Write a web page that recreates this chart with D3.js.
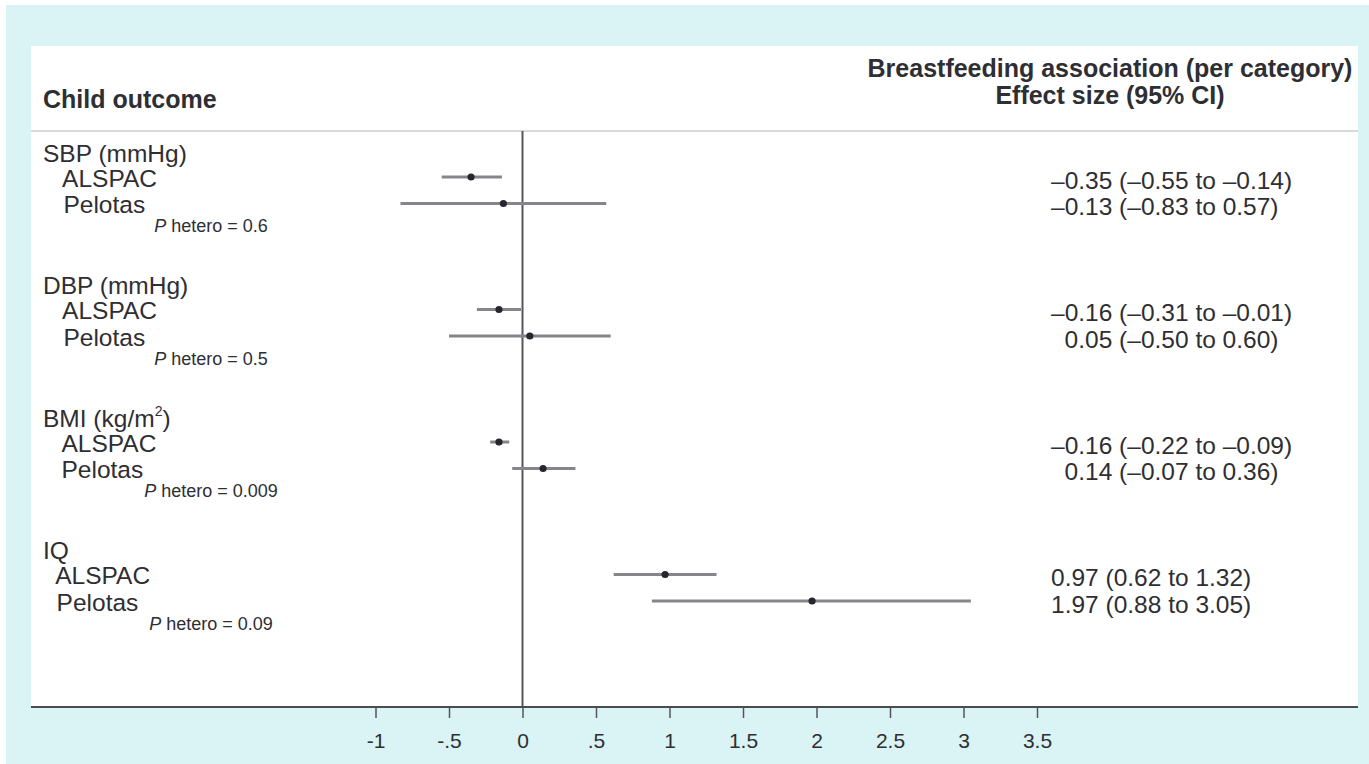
<!DOCTYPE html>
<html>
<head>
<meta charset="utf-8">
<script src="https://cdn.jsdelivr.net/npm/d3@7/dist/d3.min.js"></script>
<style>
  html, body { margin: 0; padding: 0; background: #ffffff; }
  svg { display: block; font-family: "Liberation Sans", Arial, Helvetica, sans-serif; }
  .lbl { white-space: pre; }
</style>
</head>
<body>
<svg id="chart" width="1369" height="764"></svg>
<script>
// Outcomes, cohorts and the per-category breastfeeding effects
const outcomes = ["SBP (mmHg)", "DBP (mmHg)", "BMI (kg/m²)", "IQ"];
const cohortLabels = [
  ["   ALSPAC", "   Pelotas"],
  ["   ALSPAC", "   Pelotas"],
  ["  \u2009ALSPAC", "  \u2009Pelotas"],
  ["  ALSPAC", "  Pelotas"]
];
const estimates = [[-0.35, -0.13], [-0.16, 0.05], [-0.16, 0.14], [0.97, 1.97]];
const lowerCI   = [[-0.55, -0.83], [-0.31, -0.50], [-0.22, -0.07], [0.62, 0.88]];
const upperCI   = [[-0.14,  0.57], [-0.01,  0.60], [-0.09,  0.36], [1.32, 3.05]];
const pHetero   = ["0.6", "0.5", "0.009", "0.09"];
const tickValues = [-1, -0.5, 0, 0.5, 1, 1.5, 2, 2.5, 3, 3.5];
const tickLabels = ["-1", "-.5", "0", ".5", "1", "1.5", "2", "2.5", "3", "3.5"];

const W = 1369, H = 764;
const panel = { left: 31, top: 46, right: 1358, bottom: 707 };
const headerLine = 131;
const textColor = "#2e2e33";
const rowsPerGroup = 5;
const bodySize = 24;

const svg = d3.select("#chart");

// backdrop and white plot panel
svg.append("rect").attr("width", W).attr("height", H).attr("fill", "#ffffff");
svg.append("rect").attr("x", 6).attr("y", 5).attr("width", W - 6).attr("height", H - 5).attr("fill", "#daf3f4");
svg.append("rect")
  .attr("x", panel.left).attr("y", panel.top)
  .attr("width", panel.right - panel.left).attr("height", panel.bottom - panel.top)
  .attr("fill", "#ffffff");

const x = d3.scaleLinear().domain([-1, 3.5]).range([375.5, 1037]);
const y = d3.scaleLinear().domain([0, outcomes.length * rowsPerGroup + 1]).range([150.5, panel.bottom]);

// column headings
svg.append("text")
  .attr("x", 43).attr("y", 108)
  .attr("font-size", 25).attr("font-weight", "bold").attr("fill", textColor)
  .text("Child outcome");
const rightHead = svg.append("text")
  .attr("x", 1110).attr("text-anchor", "middle")
  .attr("font-size", 25).attr("font-weight", "bold").attr("fill", textColor);
rightHead.append("tspan").attr("x", 1110).attr("y", 77).text("Breastfeeding association (per category)");
rightHead.append("tspan").attr("x", 1110).attr("y", 104).text("Effect size (95% CI)");

svg.append("line")
  .attr("x1", panel.left).attr("x2", panel.right)
  .attr("y1", headerLine).attr("y2", headerLine)
  .attr("stroke", "#d9d9d9").attr("stroke-width", 2);

// null-effect reference line
svg.append("line")
  .attr("x1", x(0)).attr("x2", x(0))
  .attr("y1", headerLine).attr("y2", panel.bottom)
  .attr("stroke", "#55565c").attr("stroke-width", 2);

// x axis
const axis = d3.axisBottom(x)
  .tickValues(tickValues)
  .tickSize(11)
  .tickPadding(15)
  .tickFormat((d, i) => tickLabels[i]);
const gAxis = svg.append("g").attr("transform", `translate(0,${panel.bottom})`).call(axis);
gAxis.select(".domain").remove();
gAxis.selectAll(".tick line").attr("stroke", "#55565c").attr("stroke-width", 1.5);
gAxis.selectAll(".tick text")
  .attr("font-size", 21).attr("fill", textColor)
  .attr("font-family", "'Liberation Sans', Arial, sans-serif");
svg.append("line")
  .attr("x1", panel.left).attr("x2", panel.right)
  .attr("y1", panel.bottom).attr("y2", panel.bottom)
  .attr("stroke", "#4a4b50").attr("stroke-width", 1.8);

const fmt = v => (v < 0 ? "\u2013" : "") + Math.abs(v).toFixed(2);

outcomes.forEach((name, g) => {
  const base = g * rowsPerGroup;

  // outcome heading, with a raised "2" for squared units
  const head = svg.append("text")
    .attr("class", "lbl")
    .attr("x", 43).attr("y", y(base)).attr("dy", "0.45em")
    .attr("font-size", bodySize + 0.5).attr("fill", textColor);
  const parts = name.split("²");
  head.append("tspan").text(parts[0]);
  if (parts.length > 1) {
    head.append("tspan").attr("font-size", 14).attr("dy", -11).text("2");
    head.append("tspan").attr("dy", 11).text(parts[1]);
  }

  const groupHasNegative = estimates[g].some(v => v < 0);

  estimates[g].forEach((est, k) => {
    const ry = y(base + 1 + k);

    svg.append("text")
      .attr("class", "lbl")
      .attr("x", 43).attr("y", ry).attr("dy", "0.4em")
      .attr("font-size", bodySize + 0.5).attr("fill", textColor)
      .text(cohortLabels[g][k]);

    svg.append("line")
      .attr("x1", x(lowerCI[g][k])).attr("x2", x(upperCI[g][k]))
      .attr("y1", ry).attr("y2", ry)
      .attr("stroke", "#85868b").attr("stroke-width", 3);

    svg.append("circle")
      .attr("cx", x(est)).attr("cy", ry).attr("r", 3.6)
      .attr("fill", "#26262e");

    // estimates aligned on the decimal point within each outcome
    const size = bodySize + 0.5;
    const pad = (groupHasNegative && est >= 0) ? 0.556 * size : 0;
    svg.append("text")
      .attr("x", 1051 + pad).attr("y", ry).attr("dy", "0.48em")
      .attr("font-size", size).attr("fill", textColor)
      .text(`${fmt(est)} (${fmt(lowerCI[g][k])} to ${fmt(upperCI[g][k])})`);
  });

  const pt = svg.append("text")
    .attr("x", 211).attr("y", y(base + 3)).attr("dy", "0.12em")
    .attr("text-anchor", "middle")
    .attr("font-size", 18).attr("fill", textColor);
  pt.append("tspan").attr("font-style", "italic").text("P");
  pt.append("tspan").text(` hetero = ${pHetero[g]}`);
});
</script>
</body>
</html>
